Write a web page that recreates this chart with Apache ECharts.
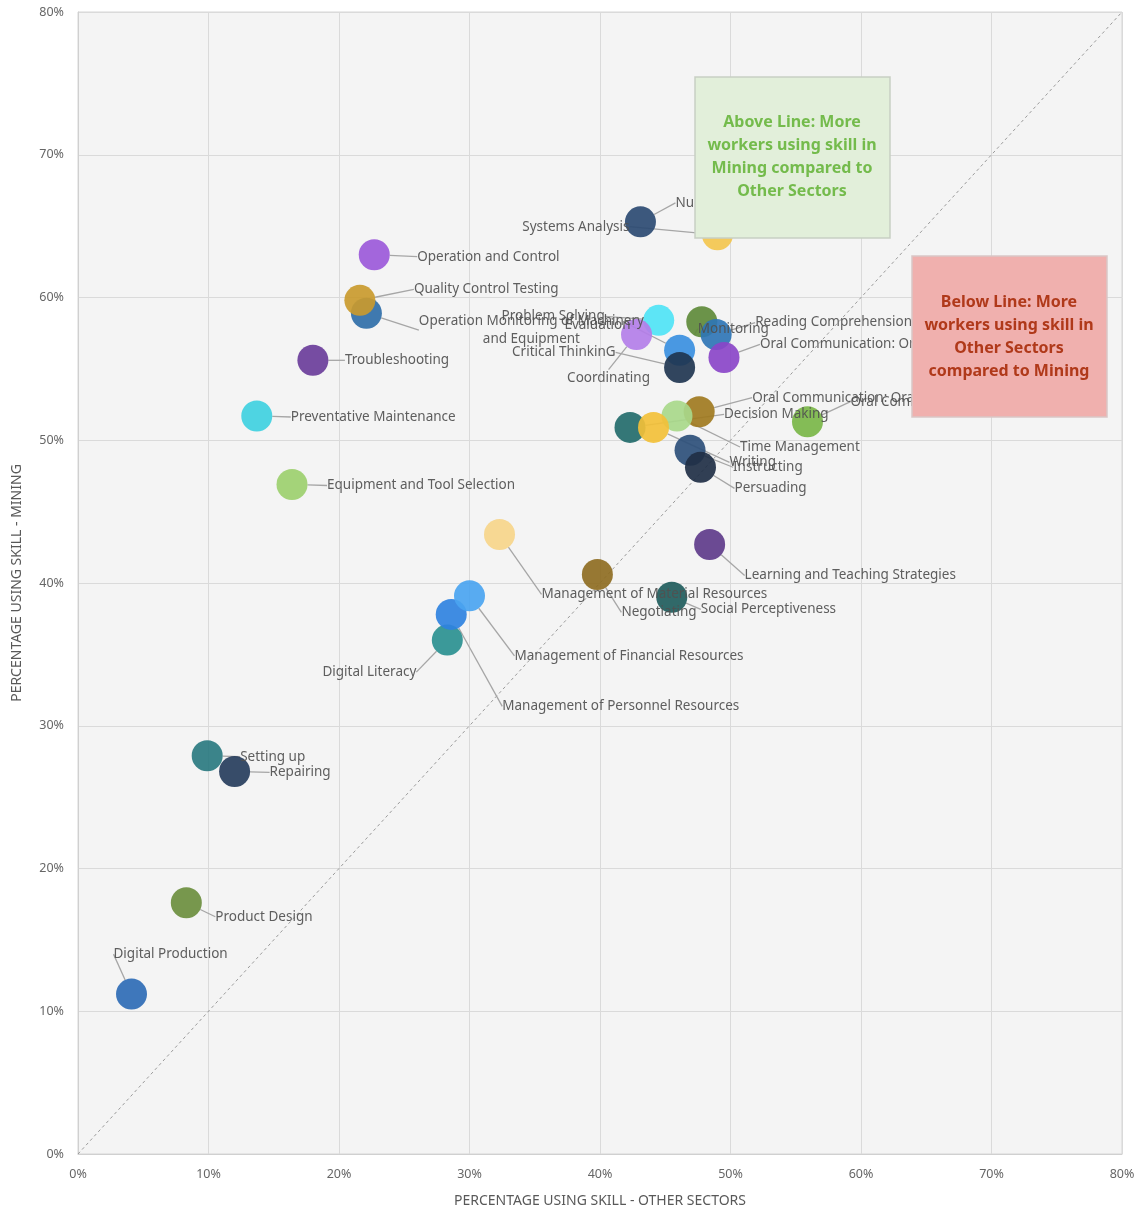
<!DOCTYPE html>
<html>
<head>
<meta charset="utf-8">
<script src="https://cdn.jsdelivr.net/npm/echarts@6/dist/echarts.min.js"></script>
<style>
  html, body { margin: 0; background: #ffffff; }
  #chart { width: 1141px; height: 1210px; }
</style>
</head>
<body>
<div id="chart"></div>
<script>
// skills, share of workers using them in other sectors (x) and in mining (y), %
const skills = [
  'Digital Production', 'Product Design', 'Setting up', 'Repairing',
  'Digital Literacy', 'Management of Personnel Resources', 'Management of Financial Resources',
  'Management of Material Resources', 'Negotiating', 'Social Perceptiveness',
  'Learning and Teaching Strategies', 'Equipment and Tool Selection', 'Preventative Maintenance',
  'Troubleshooting', 'Operation Monitoring of Machinery\nand Equipment', 'Quality Control Testing',
  'Operation and Control', 'Numeracy', 'Systems Analysis', 'Problem Solving', 'Evaluation',
  'Monitoring', 'Reading Comprehension', 'Oral Communication: Oral Expression', 'Coordinating',
  'Critical ThinkinG', 'Oral Communication: Oral Comprehension', 'Oral Communication',
  'Decision Making', 'Time Management', 'Writing', 'Instructing', 'Persuading'
];
const otherSectors = [
  4.1, 8.3, 9.9, 12.0,
  28.3, 28.6, 30.0,
  32.3, 39.8, 45.5,
  48.4, 16.4, 13.7,
  18.0, 22.1, 21.6,
  22.7, 43.1, 49.0, 44.5, 46.1,
  47.8, 48.9, 49.5, 42.8,
  46.1, 47.6, 55.9,
  42.3, 45.9, 44.1, 46.9, 47.7
];
const mining = [
  11.2, 17.6, 27.9, 26.8,
  36.0, 37.8, 39.1,
  43.4, 40.6, 39.0,
  42.7, 46.9, 51.7,
  55.6, 58.9, 59.8,
  63.0, 65.3, 64.4, 58.4, 56.3,
  58.3, 57.4, 55.8, 57.4,
  55.1, 52.0, 51.3,
  50.9, 51.7, 50.9, 49.3, 48.1
];
const diagonal = [0, 80];

// styling
const dotColors = [
  '#2e6bb5', '#6b8e3e', '#2a7a80', '#263d5c',
  '#2a9090', '#2f82e0', '#4aa4f0',
  '#f6d58a', '#8e6d22', '#1f5c5c',
  '#5e3b8a', '#9ccf6e', '#3fd0e0',
  '#6a3d9a', '#2f6ea8', '#c99a2e',
  '#9b59d9', '#2b4a72', '#f3c64e', '#4fe3f5', '#3a8fe0',
  '#5e8a3a', '#2f75b5', '#8a45c8', '#b37ee8',
  '#1f3550', '#a07a20', '#7ab648',
  '#236b6b', '#a8d88a', '#f2c038', '#2d4f7a', '#1f2f45'
];
// label offset from dot centre (px) and text alignment
const labelOffsets = [
  [-18, -40, 'left'], [29, 14, 'left'], [33, 1, 'left'], [35, 1, 'left'],
  [-31, 32, 'right'], [51, 92, 'left'], [45, 60, 'left'],
  [42, 60, 'left'], [24, 38, 'left'], [29, 12, 'left'],
  [35, 31, 'left'], [35, 1, 'left'], [34, 1, 'left'],
  [32, 0, 'left'], [165, 17, 'center'], [54, -11, 'left'],
  [43, 2, 'left'], [35, -19, 'left'], [-88, -8, 'right'], [-54, -4, 'right'], [-49, -25, 'right'],
  [-4, 7, 'left'], [39, -12, 'left'], [36, -13, 'left'], [-28, 44, 'center'],
  [-64, -15, 'right'], [53, -14, 'left'], [43, -20, 'left'],
  [94, -13, 'left'], [63, 31, 'left'], [76, 35, 'left'], [43, 17, 'left'], [34, 21, 'left']
];

const points = skills.map((s, i) => ({
  name: s,
  value: [otherSectors[i], mining[i]],
  itemStyle: { color: dotColors[i] }
}));

const chart = echarts.init(document.getElementById('chart'));
const font = '"Noto Sans", Lato, sans-serif';

chart.setOption({
  backgroundColor: '#ffffff',
  animation: false,
  grid: {
    left: 78, right: 19, top: 12, bottom: 56,
    outerBoundsMode: 'none',
    containLabel: false,
    show: true, backgroundColor: '#f4f4f4', borderColor: '#d6d6d6', borderWidth: 1
  },
  xAxis: {
    type: 'value', min: 0, max: 80, interval: 10,
    name: 'PERCENTAGE USING SKILL - OTHER SECTORS',
    nameLocation: 'middle', nameGap: 40,
    nameTextStyle: { color: '#595959', fontSize: 14, fontFamily: font },
    axisLine: { show: true, lineStyle: { color: '#d0d0d0' } },
    axisTick: { show: false },
    axisLabel: { formatter: '{value}%', color: '#666', fontSize: 12.5, fontFamily: font, margin: 14 },
    splitLine: { lineStyle: { color: '#dadada' } }
  },
  yAxis: {
    type: 'value', min: 0, max: 80, interval: 10,
    name: 'PERCENTAGE USING SKILL - MINING',
    nameLocation: 'middle', nameGap: 54,
    nameTextStyle: { color: '#595959', fontSize: 14, fontFamily: font },
    axisLine: { show: true, lineStyle: { color: '#d0d0d0' } },
    axisTick: { show: false },
    axisLabel: { formatter: '{value}%', color: '#666', fontSize: 12.5, fontFamily: font, margin: 14 },
    splitLine: { lineStyle: { color: '#dadada' } }
  },
  series: [
    {
      type: 'line',
      data: [[diagonal[0], diagonal[0]], [diagonal[1], diagonal[1]]],
      symbol: 'none',
      silent: true,
      lineStyle: { color: '#9a9a9a', width: 1, type: [3, 3] },
      z: 1
    },
    {
      type: 'scatter',
      data: points,
      symbolSize: 31,
      itemStyle: { opacity: 0.92 },
      label: {
        show: true,
        formatter: '{b}',
        color: '#505050',
        fontSize: 13.5,
        fontFamily: font,
        lineHeight: 18
      },
      labelLine: { show: true, lineStyle: { color: '#a6a6a6', width: 1.3 } },
      labelLayout: function (p) {
        const o = labelOffsets[p.dataIndex];
        const cx = p.rect.x + p.rect.width / 2;
        const cy = p.rect.y + p.rect.height / 2;
        return {
          x: cx + o[0], y: cy + o[1], align: o[2], verticalAlign: 'middle'
        };
      },
      z: 3
    }
  ],
  graphic: [
    { type: 'rect', z: 100, x: 695, y: 77,
      shape: { x: 0, y: 0, width: 195, height: 161 },
      style: { fill: '#e2efda', stroke: '#c8cfc3', lineWidth: 1.5 } },
    { type: 'text', z: 101, x: 792, y: 157,
      style: { text: 'Above Line: More\nworkers using skill in\nMining compared to\nOther Sectors',
        fill: '#74bb4c', font: 'bold 16px ' + font, align: 'center', verticalAlign: 'middle',
        lineHeight: 23 } },
    { type: 'rect', z: 100, x: 912, y: 256,
      shape: { x: 0, y: 0, width: 195, height: 161 },
      style: { fill: '#f0b0ae', stroke: '#d9c6c6', lineWidth: 1.5 } },
    { type: 'text', z: 101, x: 1009, y: 337,
      style: { text: 'Below Line: More\nworkers using skill in\nOther Sectors\ncompared to Mining',
        fill: '#b0391a', font: 'bold 16px ' + font, align: 'center', verticalAlign: 'middle',
        lineHeight: 23 } }
  ]
});
</script>
</body>
</html>
